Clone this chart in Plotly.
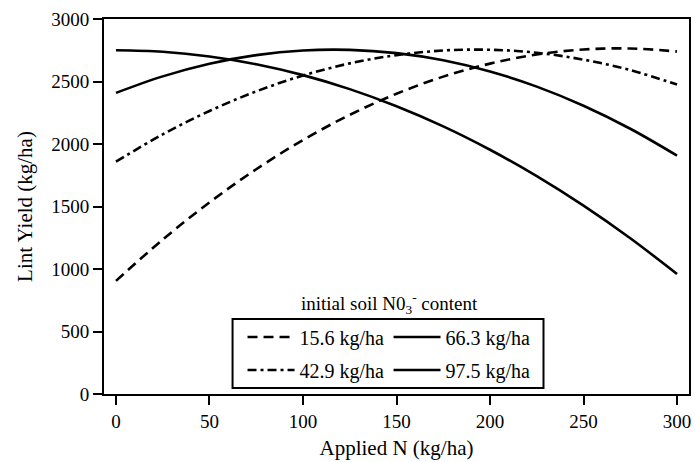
import plotly.graph_objects as go

# Applied N (kg/ha)
applied_n = [0, 25, 50, 75, 100, 125, 150, 175, 200, 225, 250, 275, 300]

# Lint yield (kg/ha) for each initial soil NO3- content
yield_15_6 = [905, 1235, 1533, 1798, 2032, 2233, 2402, 2539, 2643, 2716, 2756, 2764, 2740]
yield_42_9 = [1859, 2077, 2264, 2421, 2548, 2645, 2711, 2748, 2754, 2730, 2675, 2591, 2476]
yield_66_3 = [2409, 2541, 2642, 2711, 2748, 2753, 2727, 2670, 2580, 2459, 2306, 2122, 1907]
yield_97_5 = [2750, 2738, 2700, 2638, 2551, 2439, 2302, 2141, 1954, 1743, 1507, 1246, 960]

series_names = ["15.6 kg/ha", "66.3 kg/ha", "42.9 kg/ha", "97.5 kg/ha"]

x_ticks = [0, 50, 100, 150, 200, 250, 300]
y_ticks = [0, 500, 1000, 1500, 2000, 2500, 3000]

FONT = "Liberation Serif, Times New Roman, serif"

fig = go.Figure()
fig.add_trace(go.Scatter(x=applied_n, y=yield_15_6, mode="lines", name=series_names[0],
                         line=dict(color="black", width=2.6, dash="10px,6px", shape="spline"),
                         legend="legend"))
fig.add_trace(go.Scatter(x=applied_n, y=yield_66_3, mode="lines", name=series_names[1],
                         line=dict(color="black", width=2.6, shape="spline"),
                         legend="legend"))
fig.add_trace(go.Scatter(x=applied_n, y=yield_42_9, mode="lines", name=series_names[2],
                         line=dict(color="black", width=2.6, dash="9px,4px,3px,4px", shape="spline"),
                         legend="legend2"))
fig.add_trace(go.Scatter(x=applied_n, y=yield_97_5, mode="lines", name=series_names[3],
                         line=dict(color="black", width=2.6, shape="spline"),
                         legend="legend2"))

W, H = 695, 462
ml, mr, mt, mb = 104, 4, 19, 68
pw, ph = W - ml - mr, H - mt - mb

def px_to_paper_x(px):
    return (px - ml) / pw

def px_to_paper_y(py):
    return (H - mb - py) / ph

legend_common = dict(
    orientation="h", bgcolor="rgba(0,0,0,0)", borderwidth=0,
    font=dict(family=FONT, size=20, color="black"),
    itemwidth=47, entrywidthmode="pixels", entrywidth=84,
    xanchor="left", yanchor="middle", traceorder="normal",
)

fig.update_layout(
    width=W, height=H,
    margin=dict(l=ml, r=mr, t=mt, b=mb),
    plot_bgcolor="white", paper_bgcolor="white",
    font=dict(family=FONT, size=19, color="black"),
    showlegend=True,
    legend=dict(x=px_to_paper_x(243), y=px_to_paper_y(337), **legend_common),
    legend2=dict(x=px_to_paper_x(243), y=px_to_paper_y(370), **legend_common),
    xaxis=dict(
        range=[-6.4, 306.4], tickvals=x_ticks, ticktext=[str(v) for v in x_ticks],
        ticks="outside", ticklen=9, tickwidth=1.5, tickcolor="black",
        showline=True, linecolor="black", linewidth=2, mirror=True,
        showgrid=False, zeroline=False,
        tickfont=dict(family=FONT, size=19),
        title=dict(text="Applied N (kg/ha)", font=dict(family=FONT, size=21), standoff=10),
    ),
    yaxis=dict(
        range=[0, 3000], tickvals=y_ticks, ticktext=[str(v) for v in y_ticks],
        ticks="outside", ticklen=9, tickwidth=1.5, tickcolor="black",
        showline=True, linecolor="black", linewidth=2, mirror=True,
        showgrid=False, zeroline=False,
        tickfont=dict(family=FONT, size=19),
        title=dict(text="Lint Yield (kg/ha)", font=dict(family=FONT, size=21), standoff=13),
    ),
    shapes=[dict(type="rect", xref="paper", yref="paper",
                 x0=px_to_paper_x(233), x1=px_to_paper_x(545),
                 y0=px_to_paper_y(388), y1=px_to_paper_y(319),
                 line=dict(color="black", width=2), fillcolor="rgba(0,0,0,0)", layer="above")],
    annotations=[dict(text="initial soil N0<sub>3</sub><sup>-</sup> content",
                      xref="paper", yref="paper", x=px_to_paper_x(390), y=px_to_paper_y(303),
                      xanchor="center", yanchor="middle", showarrow=False,
                      font=dict(family=FONT, size=19, color="black"))],
)

fig.write_html("out.html", config={"displayModeBar": False},
               post_script="document.body.style.margin='0';document.body.style.overflow='hidden';")
